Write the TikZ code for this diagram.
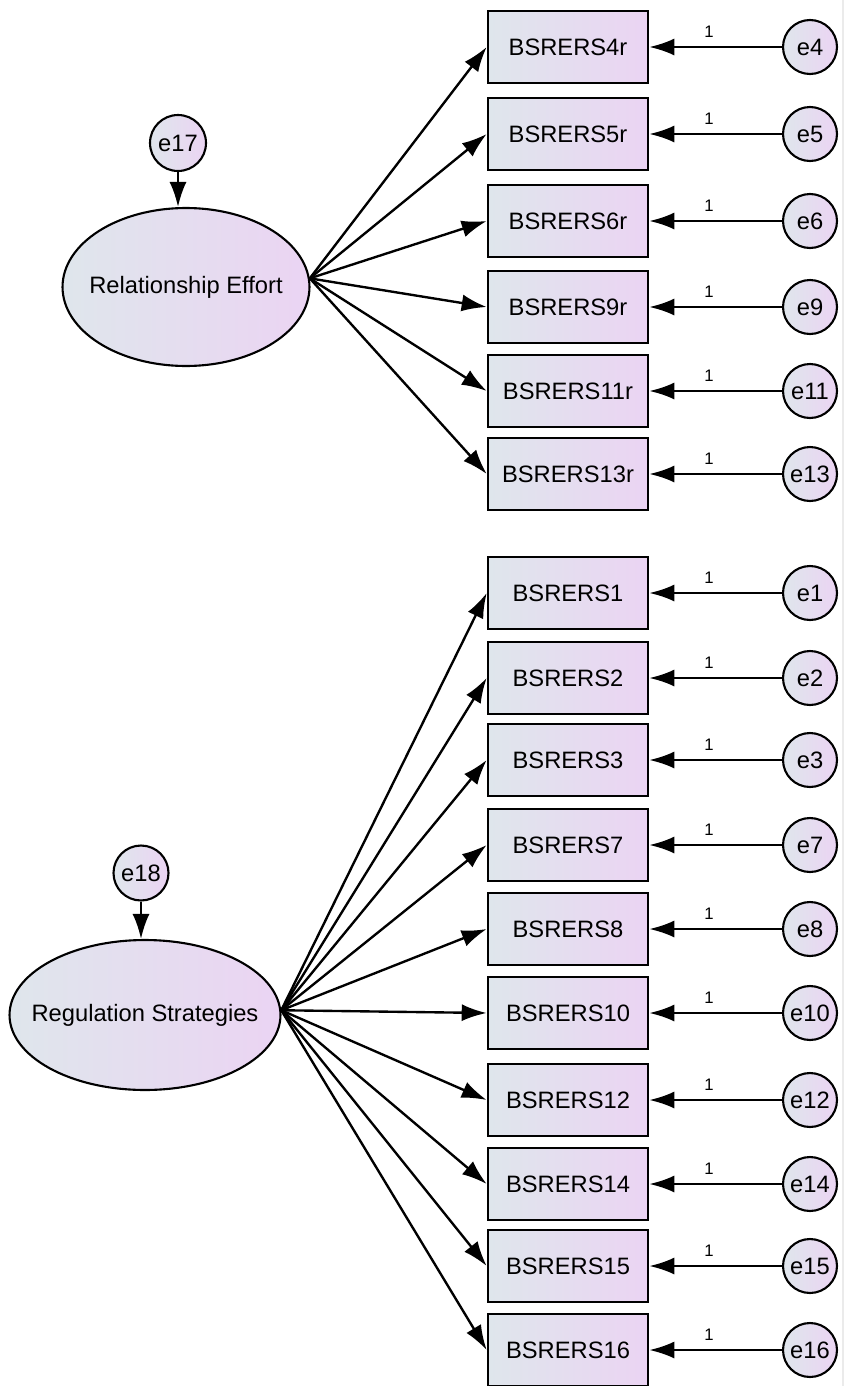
\documentclass[tikz,border=0pt]{standalone}
\usepackage{fontspec}
\setmainfont{Liberation Sans}
\usepackage{tikz}
\usetikzlibrary{arrows.meta,shapes.geometric}
\definecolor{shadeleft}{RGB}{223,230,236}
\definecolor{shaderight}{RGB}{235,212,243}
\definecolor{edgegrey}{gray}{0.92}

\begin{document}
\begin{tikzpicture}[x=0.02cm,y=-0.02cm]

\tikzset{obsbox/.style={draw,line width=1.5pt,left color=shadeleft,right color=shaderight,minimum width=3.2cm,minimum height=1.44cm,inner sep=0pt,font=\fontsize{13.5}{16}\selectfont},
errnode/.style={draw,circle,line width=1.2pt,left color=shadeleft,right color=shaderight,minimum size=1.08cm,inner sep=0pt,font=\fontsize{13.5}{16}\selectfont},
latentnode/.style={draw,ellipse,line width=1.2pt,left color=shadeleft,right color=shaderight,inner xsep=-0.45cm,inner ysep=0pt,font=\fontsize{13.5}{16}\selectfont},
loadarrow/.style={line width=1.35pt,-{Latex[length=0.5cm,width=0.34cm]}},
loadlabel/.style={above=4pt,inner sep=1pt,font=\fontsize{9.5}{11}\selectfont}}

\useasboundingbox (0,0) rectangle (846,1386);
\draw[edgegrey,line width=0.04cm] (843,0) -- (843,1386); % window edge

% Latent variables
\node[latentnode,minimum width=4.94cm,minimum height=3.16cm] (releff) at (186,287) {Relationship Effort};
\node[latentnode,minimum width=5.42cm,minimum height=3.0cm] (regstrat) at (145,1015) {Regulation Strategies};

% Residuals of the latents
\node[errnode,minimum size=1.12cm] (e17) at (178,143) {e17};
\node[errnode,minimum size=1.1cm] (e18) at (141,873) {e18};
\draw[loadarrow] (e17.south) -- (e17 |- releff.north);
\draw[loadarrow] (e18.south) -- (e18 |- regstrat.north);

% Relationship Effort items
\foreach \it/\yy/\ee in {4r/47/4,5r/134/5,6r/221/6,9r/307/9,11r/391/11,13r/474/13} {
  \node[obsbox] (b\it) at (568,\yy) {BSRERS\it};
  \node[errnode] (e\ee) at (810,\yy) {e\ee};
  \draw[loadarrow] (e\ee) -- node[pos=0.55,loadlabel] {1} (b\it);
  \draw[loadarrow] (releff.4) -- (b\it.west);
}

% Regulation Strategies items
\foreach \it/\yy in {1/593,2/678,3/760,7/845,8/929,10/1013,12/1100,14/1184,15/1266,16/1350} {
  \node[obsbox] (b\it) at (568,\yy) {BSRERS\it};
  \node[errnode] (e\it) at (810,\yy) {e\it};
  \draw[loadarrow] (e\it) -- node[pos=0.55,loadlabel] {1} (b\it);
  \draw[loadarrow] (regstrat.2) -- (b\it.west);
}

\end{tikzpicture}
\end{document}
